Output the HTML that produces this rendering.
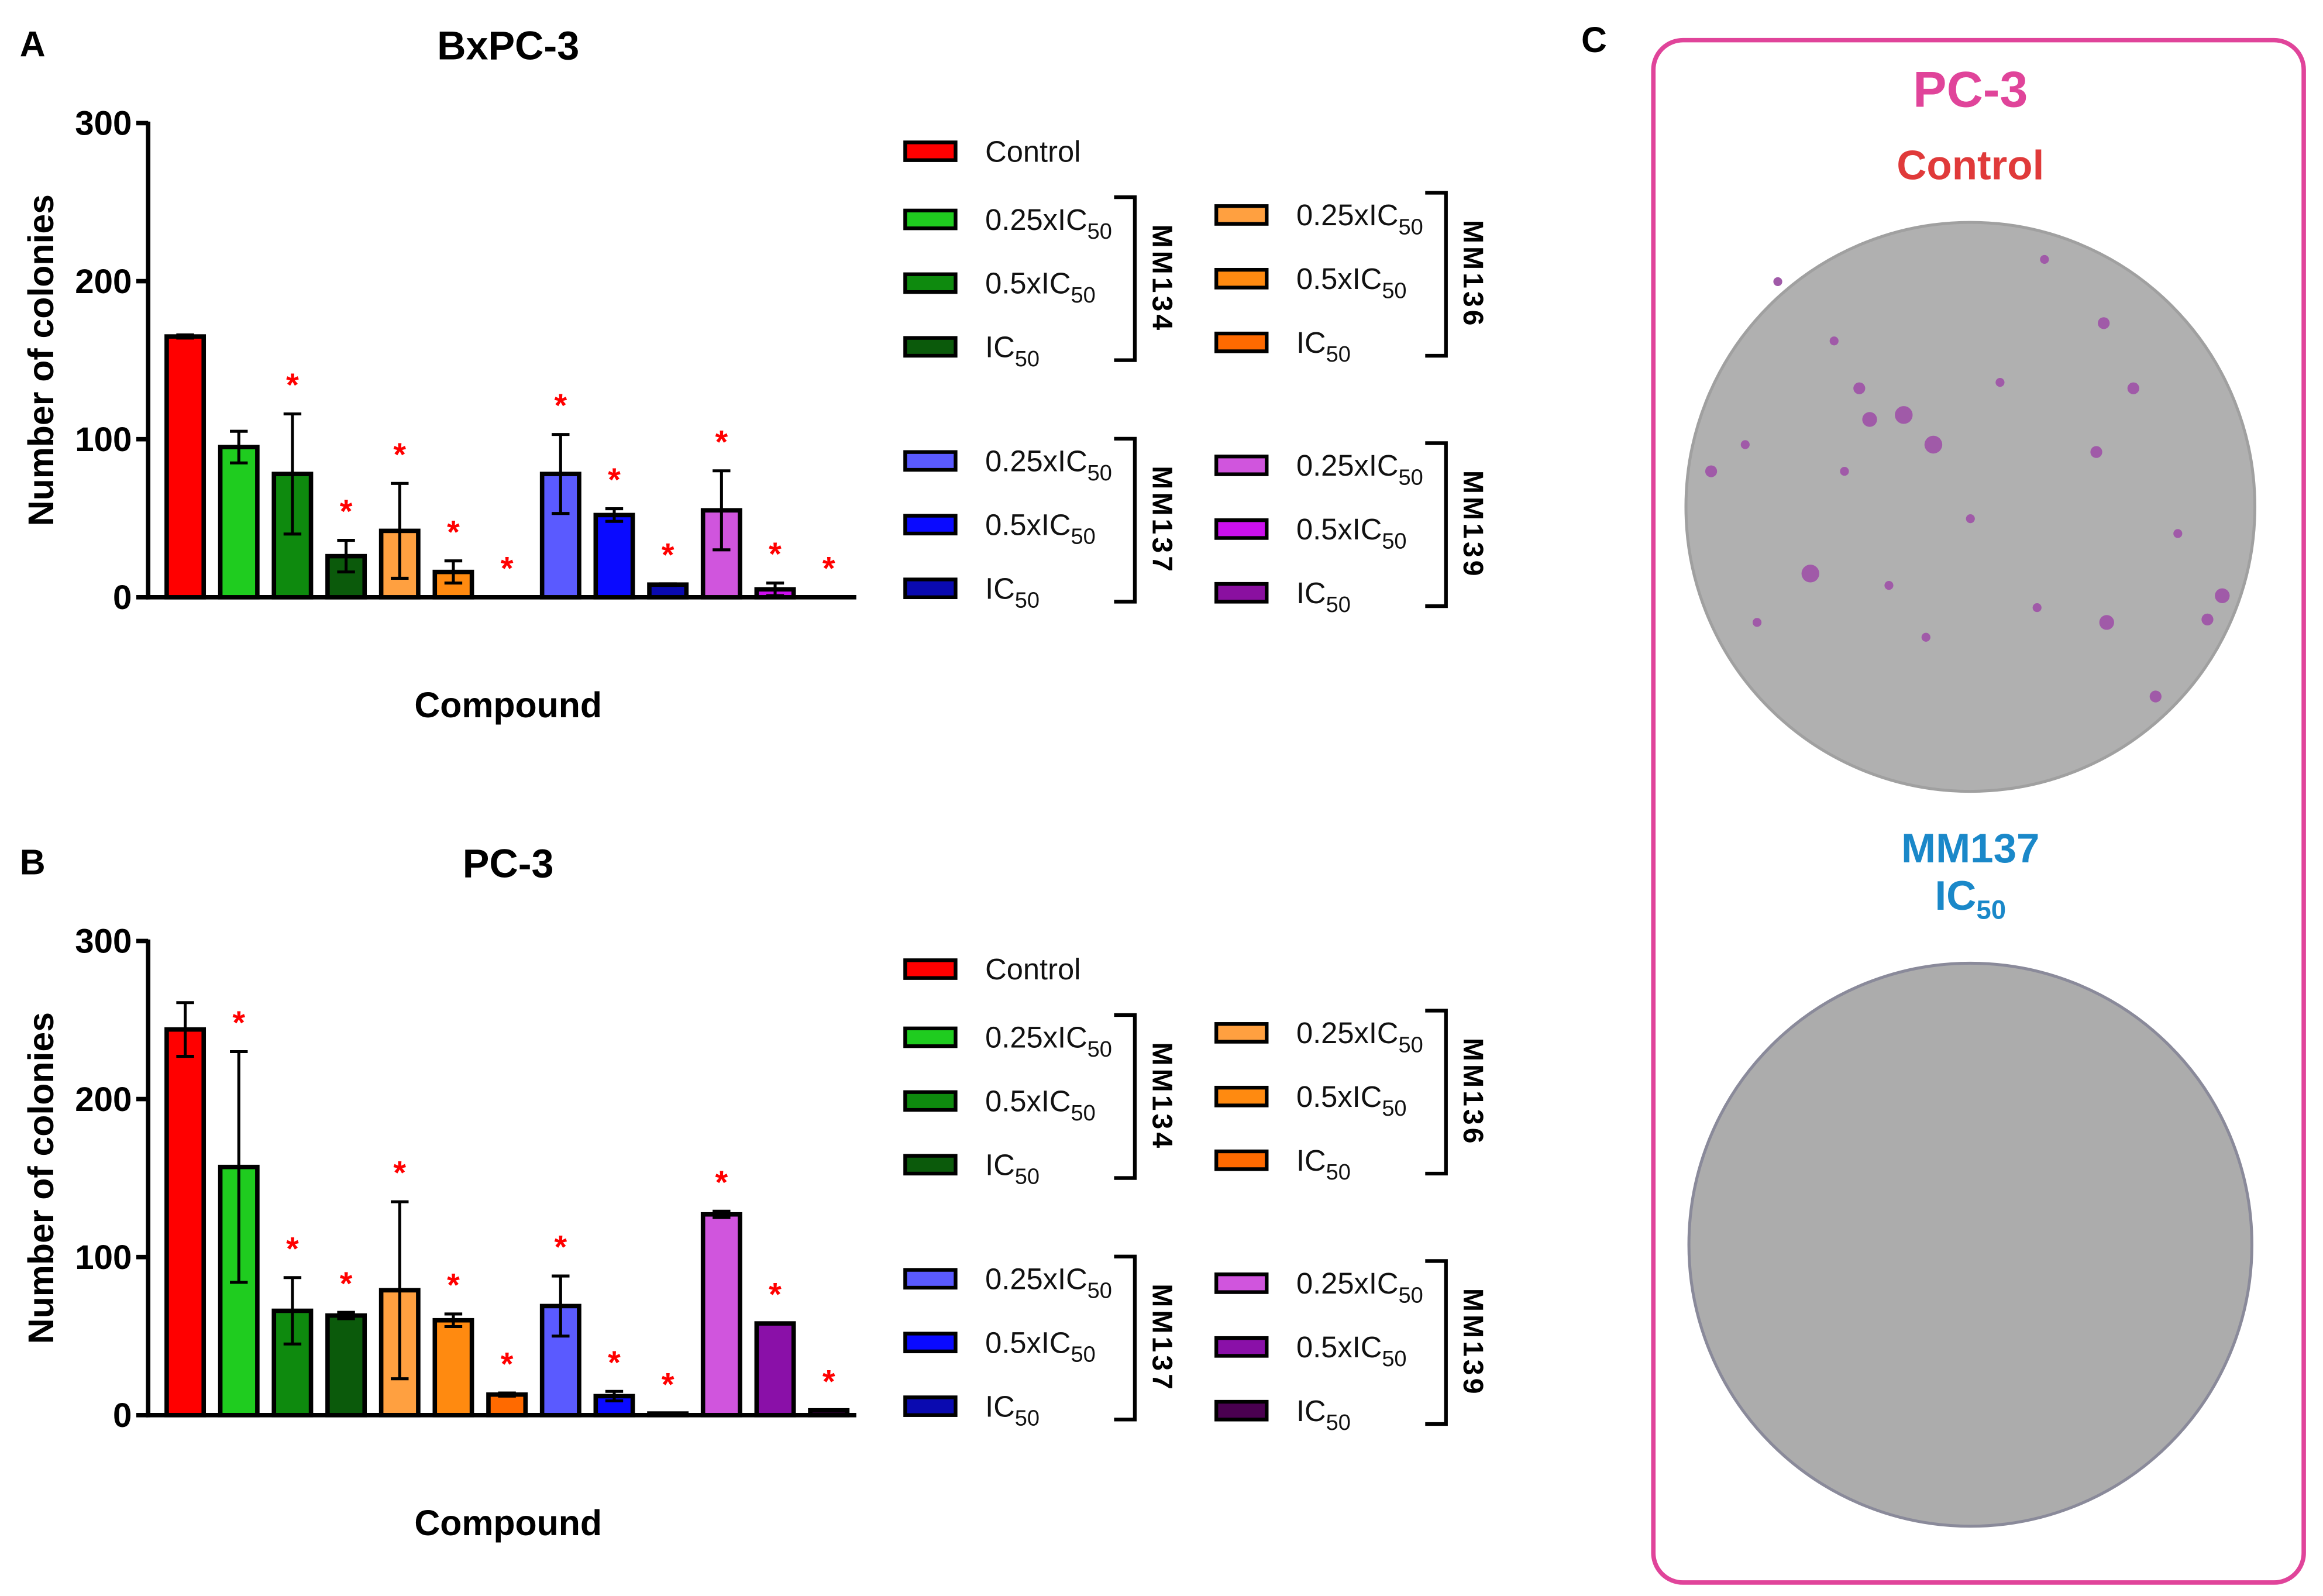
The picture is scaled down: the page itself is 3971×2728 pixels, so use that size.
<!DOCTYPE html>
<html><head><meta charset="utf-8"><style>
html,body{margin:0;padding:0;background:#fff}
svg{display:block}
text{font-family:"Liberation Sans",Arial,sans-serif}
</style></head><body>
<svg id="fig" width="3971" height="2728" viewBox="0 0 1568 1077" xmlns="http://www.w3.org/2000/svg">
<rect x="0" y="0" width="1568" height="1077" fill="#fff"/>
<g id="chartA"></g>
<g id="chartB"></g>
<g id="panelC">
 <text x="1076" y="35" font-size="24" font-weight="bold" text-anchor="middle">C</text>
 <rect x="1116" y="27" width="439" height="1041" rx="20" fill="none" stroke="#e0449a" stroke-width="3"/>
 <text x="1330" y="72" font-size="34" font-weight="bold" fill="#e0449a" text-anchor="middle">PC-3</text>
 <text x="1330" y="121" font-size="28" font-weight="bold" fill="#e03a3a" text-anchor="middle">Control</text>
 <circle cx="1330" cy="342" r="192" fill="#b0b0b0" stroke="#a0a0a0" stroke-width="2"/>
 <g id="colonies" fill="#a05aa8"></g>
 <text x="1330" y="582" font-size="28" font-weight="bold" fill="#1a88c9" text-anchor="middle">MM137</text>
 <text x="1330" y="614" font-size="28" font-weight="bold" fill="#1a88c9" text-anchor="middle">IC<tspan font-size="18" dy="6">50</tspan></text>
 <circle cx="1330" cy="840" r="190" fill="#acacac" stroke="#8a8a9a" stroke-width="2"/>
</g>
</svg>
<script>
const categories = ["Control","MM134 0.25xIC50","MM134 0.5xIC50","MM134 IC50","MM136 0.25xIC50","MM136 0.5xIC50","MM136 IC50","MM137 0.25xIC50","MM137 0.5xIC50","MM137 IC50","MM139 0.25xIC50","MM139 0.5xIC50","MM139 IC50"];
const valuesA = [165, 95, 78, 26, 42, 16, 0, 78, 52, 8, 55, 5, 0];
const errorsA = [1, 10, 38, 10, 30, 7, 0, 25, 4, 0.5, 25, 4, 0];
const starsA = [0,0,1,1,1,1,1,1,1,1,1,1,1];
const valuesB = [244, 157, 66, 63, 79, 60, 13, 69, 12, 1, 127, 58, 3];
const errorsB = [17, 73, 21, 2, 56, 4, 1, 19, 3, 0, 2, 0, 0];
const starsB = [0,1,1,1,1,1,1,1,1,1,1,1,1];
const colorsA = ["#ff0000","#1fcc1f","#0e8a0e","#0b5a0b","#ffa040","#ff8a10","#ff6a00","#5a5aff","#0a0aff","#0a0ab0","#d055dd","#cc10ee","#8a10a0"];
const colorsB = ["#ff0000","#1fcc1f","#0e8a0e","#0b5a0b","#ffa040","#ff8a10","#ff6a00","#5a5aff","#0a0aff","#0a0ab0","#d055dd","#8a10a8","#4a0050"];
const yTicks = [0, 100, 200, 300];
const legendLabels = ["0.25xIC","0.5xIC","IC"];
const groupNames = ["MM134","MM136","MM137","MM139"];

const NS = "http://www.w3.org/2000/svg";
function mk(parent, tag, attrs, txt){
  const e = document.createElementNS(NS, tag);
  for (const k in attrs) e.setAttribute(k, attrs[k]);
  if (txt !== undefined) e.textContent = txt;
  parent.appendChild(e); return e;
}
function drawChart(g, oy, title, letter, values, errors, stars, colors){
  const y0 = oy + 403, y300 = oy + 83;
  const yS = v => y0 - (v/300)*(y0 - y300);
  const xS = i => 125 + i*36.2;
  let t = mk(g,'text',{x:22,y:oy+38,'font-size':24,'font-weight':'bold','text-anchor':'middle'},letter);
  
  
  t = mk(g,'text',{x:343,y:oy+40,'font-size':27,'font-weight':'bold','text-anchor':'middle'},title);
  
  
  t = mk(g,'text',{x:343,y:oy+484,'font-size':24,'font-weight':'bold','text-anchor':'middle'},'Compound');
  
  
  t = mk(g,'text',{x:0,y:0,'font-size':24,'font-weight':'bold','text-anchor':'middle',transform:`translate(36,${oy+243}) rotate(-90)`},'Number of colonies');
  
  
  let a = mk(g,'line',{x1:100,y1:yS(300)-1,x2:100,y2:y0+1.5,stroke:'#000','stroke-width':3});
  
  
  a = mk(g,'line',{x1:98.5,y1:y0,x2:578,y2:y0,stroke:'#000','stroke-width':3});
  
  
  yTicks.forEach(v=>{
    const l = mk(g,'line',{x1:92,y1:yS(v),x2:100,y2:yS(v),stroke:'#000','stroke-width':3});
    
    
    const tl = mk(g,'text',{x:89,y:yS(v)+8,'font-size':23,'font-weight':'bold','text-anchor':'end'},String(v));
    
    
  });
  values.forEach((v,i)=>{
    const cx = xS(i), w = 25;
    if (v > 0){
      const r = mk(g,'rect',{x:cx-w/2,y:yS(v),width:w,height:y0-yS(v),fill:colors[i],stroke:'#000','stroke-width':3});
      
      
    }
    const e = errors[i];
    if (e > 0){
      const eb = mk(g,'path',{d:`M${cx},${yS(v-e)} V${yS(v+e)} M${cx-6},${yS(v+e)} H${cx+6} M${cx-6},${yS(v-e)} H${cx+6}`,stroke:'#000','stroke-width':2,fill:'none'});
      
      
    }
    if (stars[i]){
      const s = mk(g,'text',{x:cx,y:yS(v+e)-12,'font-size':22,'font-weight':'bold',fill:'#ff0000','text-anchor':'middle'},'*');
      
      
    }
  });
  function entry(x, y, color, label, sub){
    const r = mk(g,'rect',{x:x,y:y-6,width:34,height:12,fill:color,stroke:'#000','stroke-width':2.5});
    
    
    const tx = mk(g,'text',{x:x+54,y:y+7,'font-size':20,fill:'#111'},label);
    
    
    if (sub){ mk(tx,'tspan',{'font-size':15,dy:6},'50'); }
  }
  entry(611, oy+102, colors[0], 'Control', false);
  const cols = [[611,oy+148,1,0],[821,oy+145,4,1],[611,oy+311,7,2],[821,oy+314,10,3]];
  cols.forEach(([x,y,ci,gi])=>{
    for (let k=0;k<3;k++) entry(x, y+k*43, colors[ci+k], legendLabels[k], true);
    const bx = x+155, top = y-15, bot = y+95;
    const br = mk(g,'path',{d:`M${bx-14},${top} H${bx} V${bot} H${bx-14}`,stroke:'#000','stroke-width':2.5,fill:'none'});
    
    
    const gl = mk(g,'text',{x:0,y:0,'font-size':19,'font-weight':'bold','text-anchor':'middle','letter-spacing':2,transform:`translate(${bx+12},${(top+bot)/2}) rotate(90)`},groupNames[gi]);
    
    
  });
}
drawChart(document.getElementById('chartA'), 0, 'BxPC-3', 'A', valuesA, errorsA, starsA, colorsA);
drawChart(document.getElementById('chartB'), 552, 'PC-3', 'B', valuesB, errorsB, starsB, colorsB);
const col = document.getElementById('colonies');
const pts = [[1262,283,5],[1285,280,6],[1305,300,6],[1222,387,6],[1255,262,4],[1420,218,4],[1440,262,4],[1415,305,4],[1500,402,5],[1490,418,4],[1422,420,5],[1455,470,4],[1155,318,4],[1178,300,3],[1245,318,3],[1330,350,3],[1375,410,3],[1200,190,3],[1380,175,3],[1238,230,3],[1350,258,3],[1470,360,3],[1300,430,3],[1186,420,3],[1275,395,3]];
pts.forEach(p=>{
  const c = mk(col,'circle',{cx:p[0],cy:p[1],r:p[2]});
  
  
});
</script>
</body></html>
